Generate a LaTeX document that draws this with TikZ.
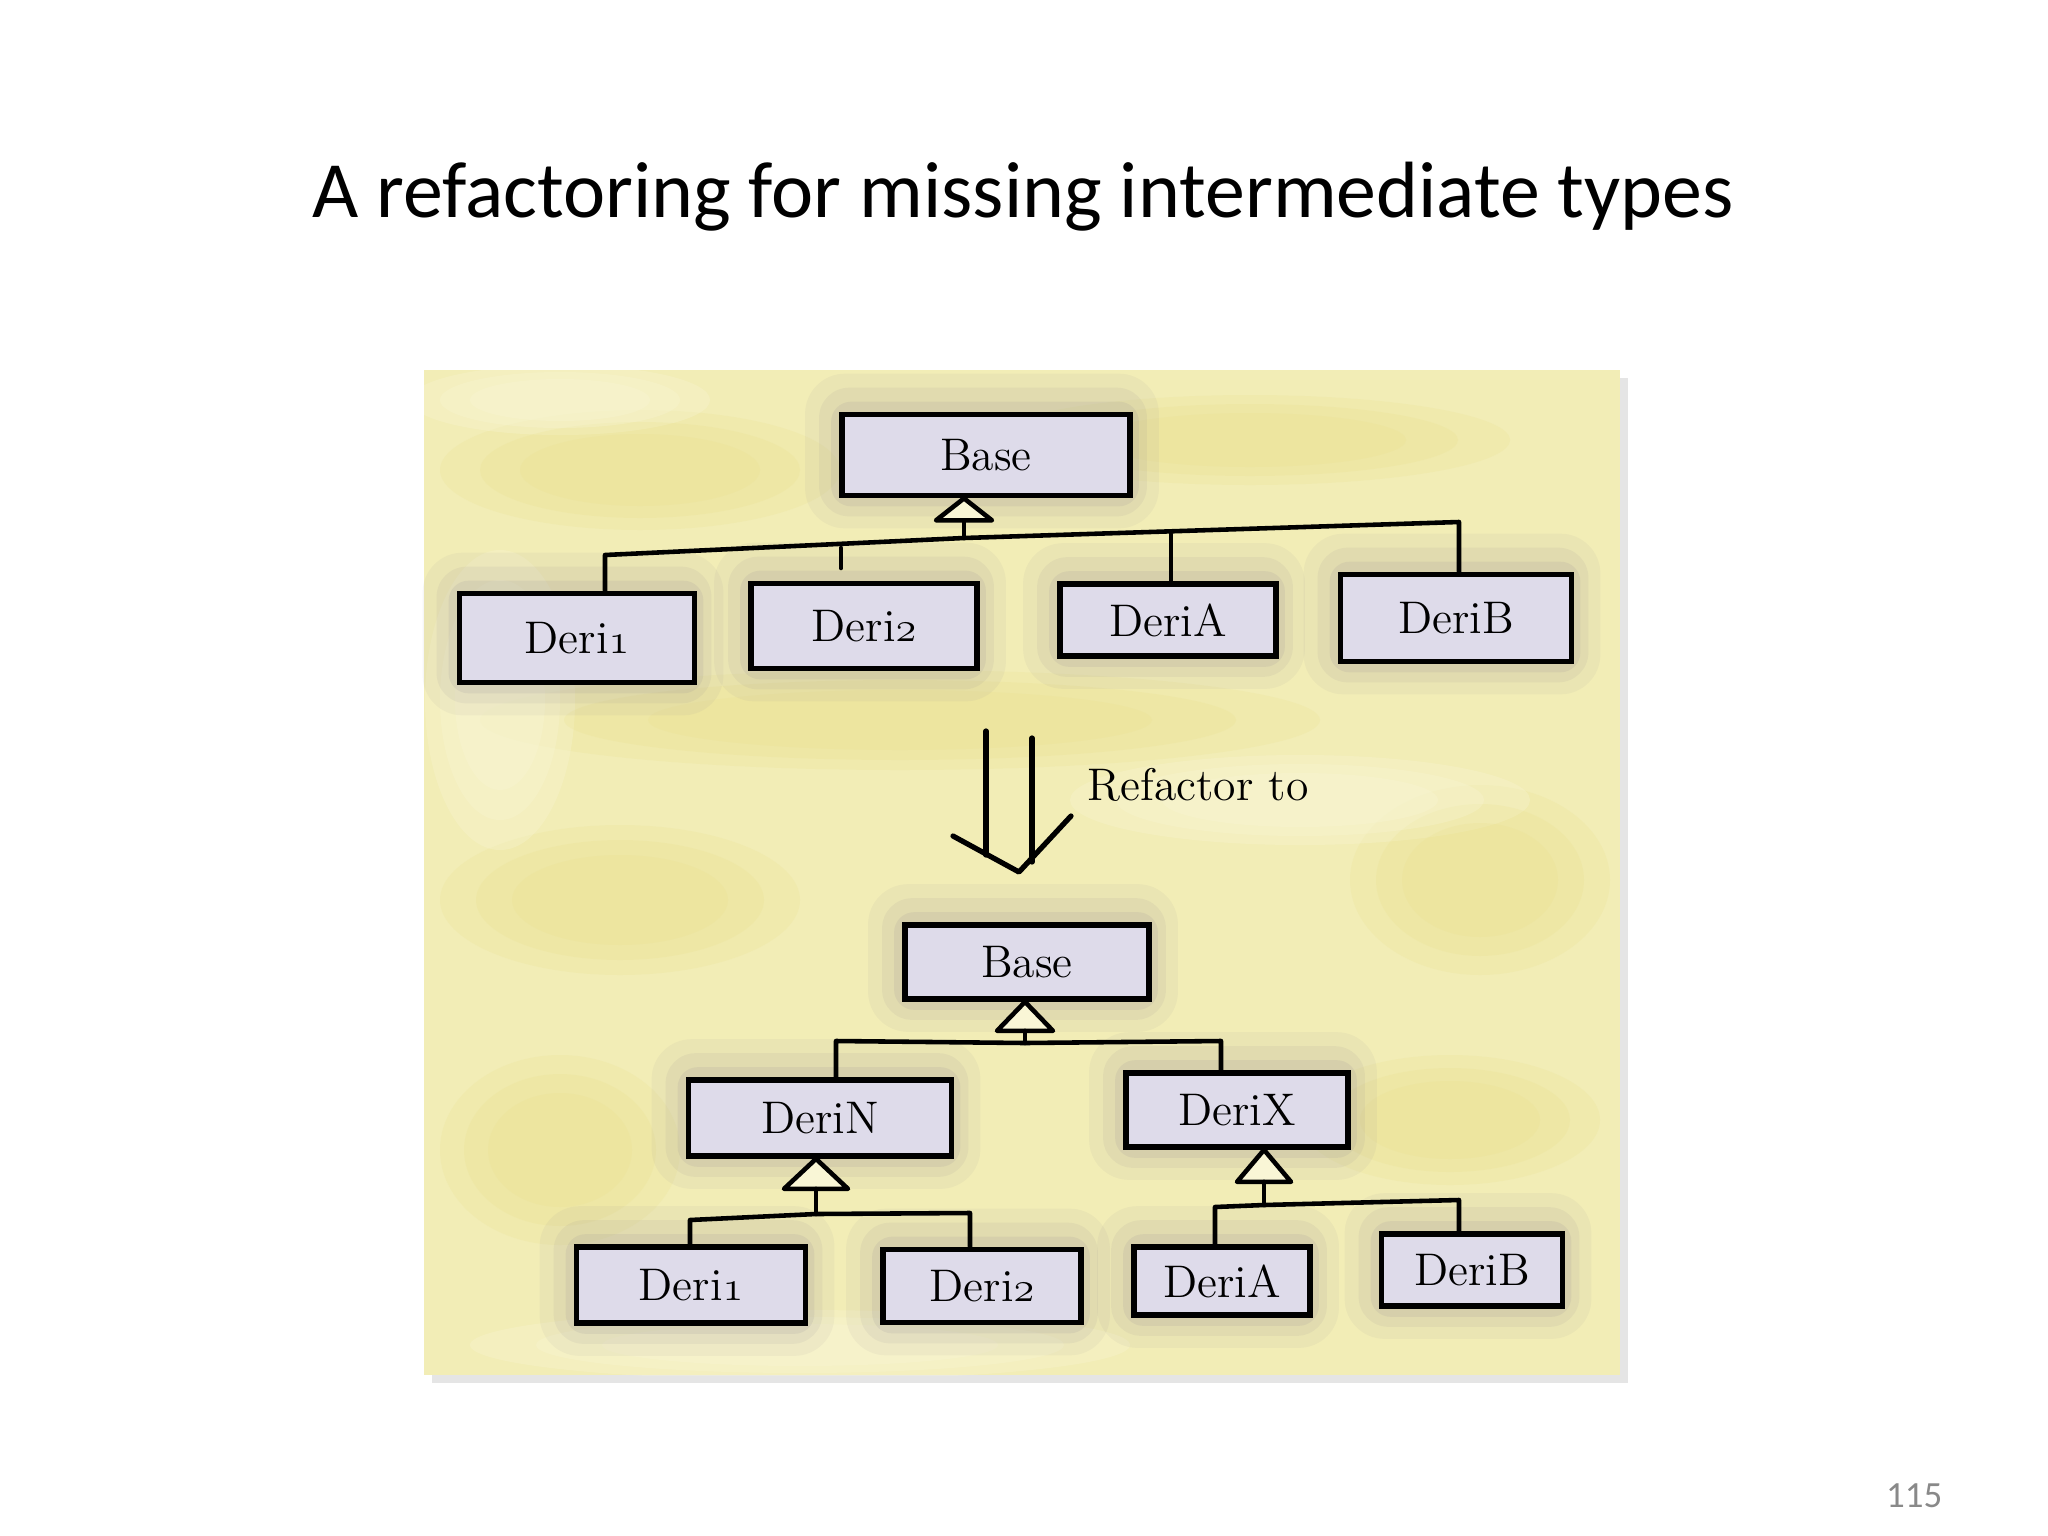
\documentclass[tikz,border=0pt]{standalone}
\usepackage{fontspec}
\newfontfamily\slidefont{Carlito}
\usetikzlibrary{calc, positioning}
\definecolor{paper}{RGB}{242,237,182}
\definecolor{paperdark}{RGB}{232,221,128}
\definecolor{paperlight}{RGB}{249,246,214}
\definecolor{boxfill}{RGB}{222,219,234}
\definecolor{smudge}{RGB}{135,128,145}
\definecolor{pagenum}{RGB}{137,137,137}
\newcommand{\onum}[1]{{\usefont{OML}{cmm}{m}{it}#1}}
\pgfdeclarelayer{paperlayer}
\pgfdeclarelayer{halo}
\pgfsetlayers{paperlayer,halo,main}

\begin{document}
\begin{tikzpicture}[x=0.01cm, y=-0.01cm,
  cls/.style={draw=black, line width=1.6pt, fill=boxfill, inner sep=0pt,
    font=\fontsize{13}{15}\selectfont},
  wire/.style={line width=1.3pt, line cap=round, line join=round},
  inh/.style={line width=1.3pt, fill=paperlight, line join=round},
  wash/.style={paperdark, opacity=0.16},
  glow/.style={paperlight, opacity=0.3}]
\useasboundingbox (0,0) rectangle (2048,1536);
% Title and page number
\node[anchor=base, inner sep=0pt, font=\slidefont\fontsize{22.7}{27}\selectfont] (title) at (1023,217)
  {A refactoring for missing intermediate types};
\node[anchor=base east, inner sep=0pt, text=pagenum, font=\slidefont\fontsize{10.5}{12}\selectfont] (pgnum) at (1943,1507) {115};

% Paper with washes
\begin{pgfonlayer}{paperlayer}
\fill[white] (0,0) rectangle (2048,1536);
\fill[black!10] (432,378) rectangle (1628,1383);
\fill[paper] (424,370) rectangle (1620,1375);
\begin{scope}
\clip (424,370) rectangle (1620,1375);
\foreach \s in {1,0.8,0.6}{
  \fill[wash] (640,470) ellipse ({200*\s} and {60*\s});
  \fill[wash] (1250,440) ellipse ({260*\s} and {45*\s});
  \fill[wash] (900,720) ellipse ({420*\s} and {50*\s});
  \fill[wash] (620,900) ellipse ({180*\s} and {75*\s});
  \fill[wash] (1480,880) ellipse ({130*\s} and {95*\s});
  \fill[wash] (560,1150) ellipse ({120*\s} and {95*\s});
  \fill[wash] (1450,1120) ellipse ({150*\s} and {65*\s});
  \fill[glow] (560,400) ellipse ({150*\s} and {35*\s});
  \fill[glow] (1300,800) ellipse ({230*\s} and {45*\s});
  \fill[glow] (800,1345) ellipse ({330*\s} and {35*\s});
  \fill[glow] (500,700) ellipse ({75*\s} and {150*\s});
}
\end{scope}
\end{pgfonlayer}

% Original hierarchy
\node[cls, minimum width=2.88cm, minimum height=0.81cm] (base1) at (986,455) {Base};
\node[cls, minimum width=2.35cm, minimum height=0.89cm] (t1) at (577,638) {Deri\onum{1}};
\node[cls, minimum width=2.26cm, minimum height=0.85cm] (t2) at (864,626) {Deri\onum{2}};
\node[cls, minimum width=2.16cm, minimum height=0.72cm] (tA) at (1168,620) {DeriA};
\node[cls, minimum width=2.31cm, minimum height=0.87cm] (tB) at (1456,618) {DeriB};

\coordinate (a1) at ($(base1.south)+(-22,0)$);
\coordinate (j1) at (964,538);
\coordinate (k1) at (605,555);
\coordinate (k2) at (841,548);
\coordinate (k3) at (1171,534);
\coordinate (k4) at (1459,522);
\draw[inh] (a1) -- ++(-28,22) -- ++(56,0) -- cycle;
\draw[wire] ($(a1)+(0,22)$) -- (j1);
\draw[wire] (k1 |- t1.north) -- (k1) -- (j1) -- (k4) -- (k4 |- tB.north);
\draw[wire] (k3) -- (k3 |- tA.north);
\draw[wire] (k2) -- ++(0,20);

% Refactor arrow
\draw[wire, line width=1.5pt] (986,731) -- (986,855);
\draw[wire, line width=1.5pt] (1032,738) -- (1032,862);
\draw[wire, line width=1.5pt] (953,836) -- (1019,872) -- (1071,816);
\node[anchor=base west, font=\fontsize{13}{15}\selectfont, inner sep=0pt] (refl) at (1087,800) {Refactor to};

% Refactored hierarchy
\node[cls, minimum width=2.44cm, minimum height=0.74cm] (base2) at (1027,962) {Base};
\node[cls, minimum width=2.63cm, minimum height=0.76cm] (nN) at (820,1118) {DeriN};
\node[cls, minimum width=2.22cm, minimum height=0.74cm] (nX) at (1237,1110) {DeriX};
\node[cls, minimum width=2.29cm, minimum height=0.76cm] (b1) at (691,1285) {Deri\onum{1}};
\node[cls, minimum width=1.98cm, minimum height=0.73cm] (b2) at (982,1286) {Deri\onum{2}};
\node[cls, minimum width=1.76cm, minimum height=0.68cm] (bA) at (1222,1281) {DeriA};
\node[cls, minimum width=1.81cm, minimum height=0.72cm] (bB) at (1472,1270) {DeriB};

\coordinate (a2) at ($(base2.south)+(-2,0)$);
\coordinate (j2) at (1025,1043);
\coordinate (m1) at (836,1041);
\coordinate (m2) at (1221,1041);
\draw[inh] (a2) -- ++(-28,29) -- ++(56,0) -- cycle;
\draw[wire] ($(a2)+(0,29)$) -- (j2);
\draw[wire] (m1 |- nN.north) -- (m1) -- (j2) -- (m2) -- (m2 |- nX.north);

\coordinate (aN) at ($(nN.south)+(-4,0)$);
\coordinate (jN) at (816,1214);
\coordinate (p1) at (690,1220);
\coordinate (p2) at (970,1213);
\draw[inh] (aN) -- ++(-32,30) -- ++(64,0) -- cycle;
\draw[wire] ($(aN)+(0,30)$) -- (jN);
\draw[wire] (p1 |- b1.north) -- (p1) -- (jN) -- (p2) -- (p2 |- b2.north);

\coordinate (aX) at ($(nX.south)+(27,0)$);
\coordinate (jX) at (1264,1205);
\coordinate (q1) at (1215,1207);
\coordinate (q2) at (1459,1200);
\draw[inh] (aX) -- ++(-27,32) -- ++(54,0) -- cycle;
\draw[wire] ($(aX)+(0,32)$) -- (jX);
\draw[wire] (q1 |- bA.north) -- (q1) -- (jX) -- (q2) -- (q2 |- bB.north);

% Grey smudges behind the boxes
\begin{pgfonlayer}{halo}
\foreach \n in {base1,t1,t2,tA,tB,base2,nN,nX,b1,b2,bA,bB}{
  \fill[smudge, opacity=0.07, rounded corners=0.4cm]
    ($(\n.north west)+(-34,-38)$) rectangle ($(\n.south east)+(26,30)$);
  \fill[smudge, opacity=0.09, rounded corners=0.3cm]
    ($(\n.north west)+(-20,-24)$) rectangle ($(\n.south east)+(14,18)$);
  \fill[smudge, opacity=0.12, rounded corners=0.2cm]
    ($(\n.north west)+(-8,-10)$) rectangle ($(\n.south east)+(6,8)$);
}
\end{pgfonlayer}
\end{tikzpicture}
\end{document}
